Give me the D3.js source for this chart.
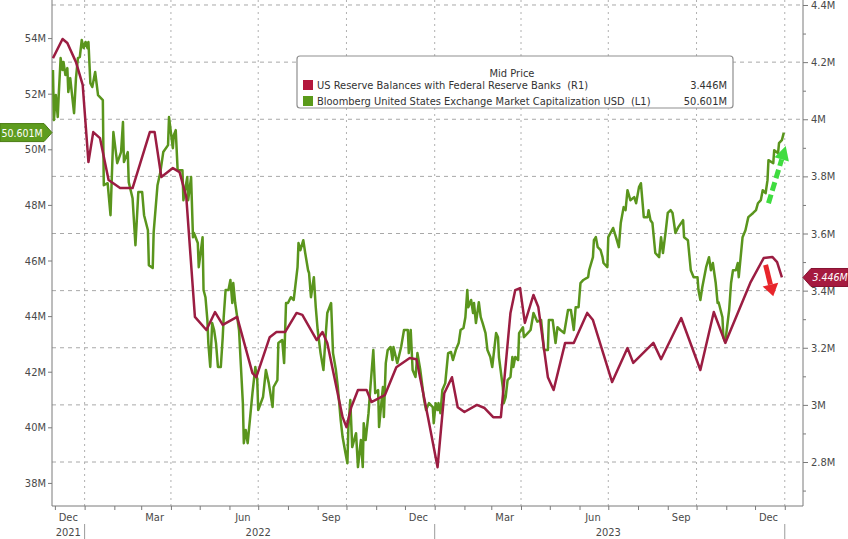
<!DOCTYPE html>
<html><head><meta charset="utf-8">
<script src="https://cdn.jsdelivr.net/npm/d3@7"></script>
<style>
body{margin:0;background:#fff}
text{font-family:"DejaVu Sans Condensed","DejaVu Sans",sans-serif}
</style></head>
<body><svg id="c" width="848" height="539"></svg>
<script>
// ---------- DATA ----------
const greenDates = [
"2021-11-29","2021-11-30","2021-12-02","2021-12-04","2021-12-05","2021-12-07","2021-12-09","2021-12-10","2021-12-12","2021-12-14",
"2021-12-15","2021-12-17","2021-12-21","2021-12-23","2021-12-25","2021-12-27","2021-12-29","2021-12-31","2022-01-02","2022-01-04",
"2022-01-05","2022-01-07","2022-01-09","2022-01-12","2022-01-15","2022-01-20","2022-01-21","2022-01-25","2022-01-28","2022-01-31",
"2022-02-04","2022-02-08","2022-02-10","2022-02-11","2022-02-15","2022-02-16","2022-02-20","2022-02-23","2022-02-26","2022-03-02",
"2022-03-04","2022-03-08","2022-03-09","2022-03-13","2022-03-14","2022-03-18","2022-03-21","2022-03-24","2022-03-29","2022-03-30",
"2022-04-03","2022-04-04","2022-04-06","2022-04-08","2022-04-13","2022-04-14","2022-04-18","2022-04-19","2022-04-22","2022-04-24",
"2022-04-25","2022-04-29","2022-04-30","2022-05-04","2022-05-05","2022-05-07","2022-05-09","2022-05-10","2022-05-12","2022-05-14",
"2022-05-16","2022-05-18","2022-05-20","2022-05-23","2022-05-25","2022-05-26","2022-05-28","2022-05-31","2022-06-02","2022-06-04",
"2022-06-05","2022-06-07","2022-06-11","2022-06-13","2022-06-15","2022-06-16","2022-06-18","2022-06-20","2022-06-23","2022-06-25",
"2022-06-28","2022-06-30","2022-07-01","2022-07-06","2022-07-09","2022-07-12","2022-07-16","2022-07-17","2022-07-21","2022-07-22",
"2022-07-26","2022-07-28","2022-07-30","2022-08-01","2022-08-04","2022-08-07","2022-08-11","2022-08-12","2022-08-14","2022-08-17",
"2022-08-19","2022-08-22","2022-08-23","2022-08-25","2022-08-28","2022-08-30","2022-09-01","2022-09-04","2022-09-07","2022-09-09",
"2022-09-11","2022-09-15","2022-09-17","2022-09-20","2022-09-22","2022-09-25","2022-09-27","2022-09-30","2022-10-02","2022-10-03",
"2022-10-05","2022-10-07","2022-10-11","2022-10-13","2022-10-16","2022-10-18","2022-10-19","2022-10-21","2022-10-24","2022-10-26",
"2022-10-29","2022-10-31","2022-11-03","2022-11-04","2022-11-08","2022-11-09","2022-11-11","2022-11-13","2022-11-16","2022-11-18",
"2022-11-19","2022-11-23","2022-11-27","2022-11-30","2022-12-04","2022-12-05","2022-12-07","2022-12-09","2022-12-12","2022-12-14",
"2022-12-17","2022-12-21","2022-12-23","2022-12-26","2022-12-30","2022-12-31","2023-01-02","2023-01-04","2023-01-05","2023-01-07",
"2023-01-09","2023-01-12","2023-01-15","2023-01-18","2023-01-20","2023-01-23","2023-01-26","2023-01-28","2023-01-31","2023-02-02",
"2023-02-04","2023-02-05","2023-02-08","2023-02-10","2023-02-11","2023-02-13","2023-02-16","2023-02-18","2023-02-20","2023-02-23",
"2023-02-25","2023-02-28","2023-03-02","2023-03-06","2023-03-08","2023-03-09","2023-03-13","2023-03-14","2023-03-16","2023-03-18",
"2023-03-21","2023-03-23","2023-03-24","2023-03-26","2023-03-29","2023-03-30","2023-04-03","2023-04-04","2023-04-08","2023-04-11",
"2023-04-14","2023-04-18","2023-04-22","2023-04-25","2023-04-29","2023-04-30","2023-05-04","2023-05-07","2023-05-09","2023-05-12",
"2023-05-16","2023-05-20","2023-05-23","2023-05-26","2023-05-28","2023-05-31","2023-06-02","2023-06-05","2023-06-10","2023-06-11",
"2023-06-15","2023-06-16","2023-06-18","2023-06-20","2023-06-23","2023-06-25","2023-06-26","2023-06-30","2023-07-01","2023-07-06",
"2023-07-09","2023-07-12","2023-07-14","2023-07-17","2023-07-19","2023-07-21","2023-07-24","2023-07-28","2023-07-30","2023-08-02",
"2023-08-04","2023-08-07","2023-08-11","2023-08-12","2023-08-14","2023-08-16","2023-08-19","2023-08-23","2023-08-25","2023-08-27",
"2023-08-30","2023-09-01","2023-09-04","2023-09-06","2023-09-09","2023-09-12","2023-09-17","2023-09-18","2023-09-22","2023-09-25",
"2023-09-28","2023-10-02","2023-10-03","2023-10-05","2023-10-07","2023-10-11","2023-10-14","2023-10-16","2023-10-18","2023-10-21",
"2023-10-23","2023-10-24","2023-10-28","2023-10-29","2023-10-31","2023-11-04","2023-11-06","2023-11-08","2023-11-11","2023-11-13",
"2023-11-14","2023-11-16","2023-11-18","2023-11-21","2023-11-24","2023-11-29","2023-12-02","2023-12-04","2023-12-07","2023-12-09",
"2023-12-12","2023-12-14","2023-12-15","2023-12-20","2023-12-21","2023-12-25","2023-12-26","2023-12-29","2023-12-31"
];
// Bloomberg United States Exchange Market Capitalization USD (millions, L1)
const greenValues = [
52.85,51.05,51.95,51.16,51.95,53.28,52.85,53.14,52.67,52.92,
52.06,52.56,51.30,52.56,53.28,53.32,53.93,53.64,53.86,53.64,
53.86,52.38,52.24,52.78,51.95,51.77,48.71,48.78,47.63,50.62,
49.50,49.90,50.98,49.54,49.90,48.82,48.24,46.55,48.46,48.46,
47.63,47.09,45.83,45.73,47.02,48.71,49.18,49.90,50.15,51.16,
50.04,50.51,50.69,49.25,49.25,48.17,49.00,48.17,49.00,46.84,
46.99,46.63,45.76,46.84,44.94,44.68,43.86,43.03,42.17,43.75,
43.50,43.03,42.17,42.17,43.24,43.96,44.94,44.94,45.30,44.47,
45.19,44.47,43.50,42.17,40.87,39.43,39.90,39.43,40.51,41.23,
42.17,41.70,40.62,41.09,42.06,41.59,40.73,41.45,41.70,43.03,
43.14,42.31,44.47,44.47,44.68,44.58,45.76,46.63,46.37,46.73,
46.27,45.65,45.55,44.68,45.40,44.32,43.50,42.67,42.06,43.14,
44.11,44.47,42.67,42.06,41.45,40.26,39.65,39.07,38.71,40.01,
40.98,39.29,39.79,38.57,39.54,38.57,40.15,39.54,40.51,41.45,
42.78,41.23,41.34,40.01,41.45,40.37,42.31,42.78,42.89,42.42,
42.89,42.31,42.89,43.50,43.50,42.67,43.50,42.06,41.81,42.67,
42.06,40.98,40.62,40.87,40.73,40.15,40.87,40.62,40.87,40.51,
41.34,41.59,42.67,42.71,42.42,42.78,43.03,43.50,43.57,43.96,
44.94,44.32,44.58,44.11,44.47,43.75,44.50,43.96,43.75,43.39,
42.78,42.53,42.17,43.39,43.24,42.53,41.45,40.87,41.09,41.70,
41.81,42.53,42.17,42.53,42.42,43.39,43.60,43.24,43.39,43.50,
44.11,43.80,43.86,42.78,42.78,43.86,43.86,43.03,43.60,43.50,
43.39,44.22,44.22,43.50,44.32,44.32,45.19,45.30,45.40,45.65,
46.12,46.73,46.84,46.48,46.37,46.12,45.91,45.76,46.84,47.17,
46.84,46.48,47.35,47.92,47.81,48.53,48.17,48.28,48.06,48.64,
48.78,47.56,47.56,47.81,47.45,47.35,46.27,46.12,46.84,46.27,
47.09,47.71,47.81,47.71,46.99,47.20,47.45,46.84,46.73,45.65,
45.40,45.40,44.94,44.58,45.04,45.76,46.12,45.65,45.91,45.19,
44.47,44.50,43.96,43.24,43.07,44.22,45.19,45.65,45.65,45.91,
45.40,46.12,46.84,47.09,47.56,47.71,47.81,48.06,48.17,48.53,
48.42,48.89,49.61,49.50,49.97,49.86,50.22,50.33,50.601
];
const redDates = [
"2021-11-29","2021-12-09","2021-12-14","2021-12-23","2021-12-30","2022-01-05","2022-01-10","2022-01-17","2022-01-26","2022-02-07",
"2022-02-20","2022-03-10","2022-03-15","2022-03-22","2022-04-03","2022-04-10","2022-04-17","2022-04-26","2022-05-08","2022-05-17",
"2022-05-25","2022-06-09","2022-06-25","2022-06-29","2022-07-13","2022-07-20","2022-07-29","2022-08-10","2022-08-16","2022-08-31",
"2022-09-06","2022-09-11","2022-09-27","2022-10-01","2022-10-06","2022-10-13","2022-10-22","2022-10-27","2022-11-10","2022-11-22",
"2022-12-06","2022-12-13","2022-12-25","2023-01-04","2023-01-11","2023-01-19","2023-01-25","2023-02-01","2023-02-14","2023-02-22",
"2023-03-03","2023-03-11","2023-03-21","2023-03-26","2023-03-31","2023-04-05","2023-04-14","2023-04-19","2023-04-29","2023-05-05",
"2023-05-17","2023-05-26","2023-06-09","2023-06-15","2023-07-05","2023-07-21","2023-07-27","2023-08-17","2023-08-25","2023-09-15",
"2023-10-05","2023-10-19","2023-10-31","2023-11-26","2023-12-10","2023-12-19","2023-12-24","2023-12-29"
];
// US Reserve Balances with Federal Reserve Banks (millions, R1)
const redValues = [
4.214,4.281,4.267,4.200,4.120,3.850,3.955,3.934,3.787,3.759,
3.759,3.955,3.955,3.798,3.829,3.815,3.728,3.308,3.262,3.325,
3.280,3.308,3.111,3.097,3.237,3.255,3.255,3.322,3.315,3.227,
3.255,3.217,2.957,2.922,2.992,3.052,3.052,3.010,3.034,3.132,
3.164,3.160,2.957,2.782,3.041,3.097,2.992,2.975,3.000,2.989,
2.957,2.957,3.322,3.402,3.409,3.287,3.385,3.343,3.097,3.052,
3.217,3.217,3.322,3.297,3.080,3.199,3.147,3.217,3.160,3.304,
3.122,3.325,3.217,3.427,3.514,3.518,3.500,3.446
];
const leftTicks = [38,40,42,44,46,48,50,52,54];
const rightTicks = [2.8,3.0,3.2,3.4,3.6,3.8,4.0,4.2,4.4];
const rightMinorTicks = [2.7,2.9,3.1,3.3,3.5,3.7,3.9,4.1,4.3];
const quarterStarts = ["2022-01-01","2022-04-01","2022-07-01","2022-10-01","2023-01-01","2023-04-01","2023-07-01","2023-10-01","2024-01-01"];
const monthLabels = [["2021-12-15","Dec"],["2022-03-15","Mar"],["2022-06-15","Jun"],["2022-09-15","Sep"],["2022-12-15","Dec"],["2023-03-15","Mar"],["2023-06-15","Jun"],["2023-09-15","Sep"],["2023-12-15","Dec"]];
const yearLabels = [["2021-12-15","2021"],["2022-07-01","2022"],["2023-07-01","2023"]];
const yearBreaks = ["2022-01-01","2023-01-01","2024-01-01"];
const legendTitle = "Mid Price";
const legendRows = [
  {name:"US Reserve Balances with Federal Reserve Banks\u00A0\u00A0(R1)", value:"3.446M", key:"red"},
  {name:"Bloomberg United States Exchange Market Capitalization USD\u00A0\u00A0(L1)", value:"50.601M", key:"green"}
];
const lastGreen = 50.601, lastRed = 3.446;
// annotation arrows (date, value)
const greenArrow = [["2023-12-15",48.06],["2024-01-02",50.12]];
const redArrow = [["2023-12-12",3.49],["2023-12-20",3.38]];

// ---------- CHART ----------
const colors = {green:"#5a951d", red:"#9b1d42", greenTag:"#5e9c1f", redTag:"#a51a3f"};
const svg = d3.select("#c");
const L = 52, R = 803, T = 0, B = 506;
const parse = d3.utcParse("%Y-%m-%d");
const x = d3.scaleUtc().domain([parse("2021-11-28"), parse("2024-01-20")]).range([L, R]);
const yL = d3.scaleLinear().domain([37.17, 55.37]).range([B, T]);
const yR = d3.scaleLinear().domain([2.646, 4.4175]).range([B, T]);

svg.append("rect").attr("width",848).attr("height",539).attr("fill","#fff");

// grid
const grid = svg.append("g");
grid.selectAll("line.h").data(rightTicks).join("line").attr("class","h")
  .attr("x1",L).attr("x2",R).attr("y1",d=>yR(d)).attr("y2",d=>yR(d))
  .attr("stroke","#a8a8a8").attr("stroke-width",1).attr("stroke-dasharray","4,4");
grid.selectAll("line.v").data(quarterStarts.map(parse)).join("line").attr("class","v")
  .attr("x1",d=>x(d)).attr("x2",d=>x(d)).attr("y1",T).attr("y2",B)
  .attr("stroke","#b0b0b0").attr("stroke-width",1).attr("stroke-dasharray","2,4");

// axes
const axColor = "#7a7a7a";
const gL = svg.append("g").attr("transform",`translate(${L},0)`)
  .call(d3.axisLeft(yL).tickValues(leftTicks).tickFormat(d=>d+"M").tickSize(4).tickPadding(2));
const gR = svg.append("g").attr("transform",`translate(${R},0)`)
  .call(d3.axisRight(yR).tickValues(rightTicks).tickFormat(d=>d+"M").tickSize(5).tickPadding(3));
const gRm = svg.append("g").attr("transform",`translate(${R},0)`)
  .call(d3.axisRight(yR).tickValues(rightMinorTicks).tickFormat("").tickSize(3));
const gB = svg.append("g").attr("transform",`translate(0,${B})`)
  .call(d3.axisBottom(x).ticks(d3.utcMonth.every(1)).tickFormat("").tickSize(4));
[gL,gR,gRm,gB].forEach(g=>{
  g.select(".domain").remove();
  g.selectAll(".tick line").attr("stroke",axColor);
  g.selectAll(".tick text").attr("fill","#4a4a4a").style("font-size","11px")
   .style("font-family",'"DejaVu Sans Condensed","DejaVu Sans",sans-serif');
});
svg.append("line").attr("x1",L).attr("x2",L).attr("y1",T).attr("y2",B).attr("stroke",axColor);
svg.append("line").attr("x1",R).attr("x2",R).attr("y1",T).attr("y2",B).attr("stroke",axColor);
svg.append("line").attr("x1",L).attr("x2",R).attr("y1",B).attr("y2",B).attr("stroke",axColor);

svg.append("g").selectAll("text").data(monthLabels).join("text")
  .attr("x",d=>x(parse(d[0]))).attr("y",521).attr("text-anchor","middle")
  .attr("fill","#4a4a4a").style("font-size","11px").text(d=>d[1]);
svg.append("g").selectAll("text").data(yearLabels).join("text")
  .attr("x",d=>x(parse(d[0]))).attr("y",536).attr("text-anchor","middle")
  .attr("fill","#4a4a4a").style("font-size","11px").text(d=>d[1]);
svg.append("g").selectAll("line").data(yearBreaks.map(parse)).join("line")
  .attr("x1",d=>x(d)).attr("x2",d=>x(d)).attr("y1",524).attr("y2",539)
  .attr("stroke","#9a9a9a");

// series
const greenData = greenDates.map((d,i)=>[parse(d), greenValues[i]]);
const redData = redDates.map((d,i)=>[parse(d), redValues[i]]);
svg.append("clipPath").attr("id","pc").append("rect").attr("x",L).attr("y",T).attr("width",R-L).attr("height",B-T);
const plot = svg.append("g").attr("clip-path","url(#pc)");
plot.append("path").datum(greenData)
  .attr("d", d3.line().x(d=>x(d[0])).y(d=>yL(d[1])))
  .attr("fill","none").attr("stroke",colors.green).attr("stroke-width",2.5).attr("stroke-linejoin","round");
plot.append("path").datum(redData)
  .attr("d", d3.line().x(d=>x(d[0])).y(d=>yR(d[1])))
  .attr("fill","none").attr("stroke",colors.red).attr("stroke-width",2.5).attr("stroke-linejoin","round");

// arrows
function arrow(pts, yScale, color, width, dash, headLen, headW){
  const x0=x(parse(pts[0][0])), y0=yScale(pts[0][1]);
  const x1=x(parse(pts[1][0])), y1=yScale(pts[1][1]);
  const a=Math.atan2(y1-y0,x1-x0);
  const bx=x1-headLen*Math.cos(a), by=y1-headLen*Math.sin(a);
  svg.append("line").attr("x1",x0).attr("y1",y0).attr("x2",bx).attr("y2",by)
    .attr("stroke",color).attr("stroke-width",width).attr("stroke-dasharray",dash);
  svg.append("path").attr("d",`M${x1},${y1}L${bx+headW*Math.sin(a)},${by-headW*Math.cos(a)}L${bx-headW*Math.sin(a)},${by+headW*Math.cos(a)}Z`)
    .attr("fill",color);
}
arrow(greenArrow, yL, "#3fdc3f", 5, "9,4", 14, 7.5);
arrow(redArrow, yR, "#e8252b", 5, null, 12, 8);

// last value tags
const gy = yL(lastGreen);
svg.append("path").attr("d",`M0,${gy-9}L44,${gy-9}L${L},${gy}L44,${gy+9}L0,${gy+9}Z`)
  .attr("fill",colors.greenTag).attr("stroke","#4a7d14");
svg.append("text").attr("x",22).attr("y",gy+4).attr("text-anchor","middle")
  .attr("fill","#fff").style("font-size","10.5px").text(lastGreen.toFixed(3)+"M");
const ry = yR(lastRed);
svg.append("path").attr("d",`M${R},${ry}L${R+8},${ry-9}L848,${ry-9}L848,${ry+9}L${R+8},${ry+9}Z`)
  .attr("fill",colors.redTag).attr("stroke","#861232");
svg.append("text").attr("x",R+27).attr("y",ry+4).attr("text-anchor","middle")
  .attr("fill","#fff").style("font-size","10.5px").style("font-style","italic").text(lastRed.toFixed(3)+"M");

// legend
const lg = svg.append("g");
lg.append("rect").attr("x",297).attr("y",56).attr("width",436).attr("height",52).attr("rx",3)
  .attr("fill","#fff").attr("stroke","#8f8f8f").attr("stroke-width",1.2);
lg.append("text").attr("x",512).attr("y",77).attr("text-anchor","middle")
  .attr("fill","#333").style("font-size","11px").text(legendTitle);
legendRows.forEach((r,i)=>{
  const yy = 80 + i*16;
  lg.append("rect").attr("x",303).attr("y",yy).attr("width",10).attr("height",10)
    .attr("fill", r.key==="red" ? "#b3173c" : "#5a9a1a");
  lg.append("text").attr("x",317).attr("y",yy+9).attr("fill","#333").style("font-size","11px").text(r.name);
  lg.append("text").attr("x",727).attr("y",yy+9).attr("text-anchor","end").attr("fill","#333").style("font-size","11px").text(r.value);
});
</script></body></html>
